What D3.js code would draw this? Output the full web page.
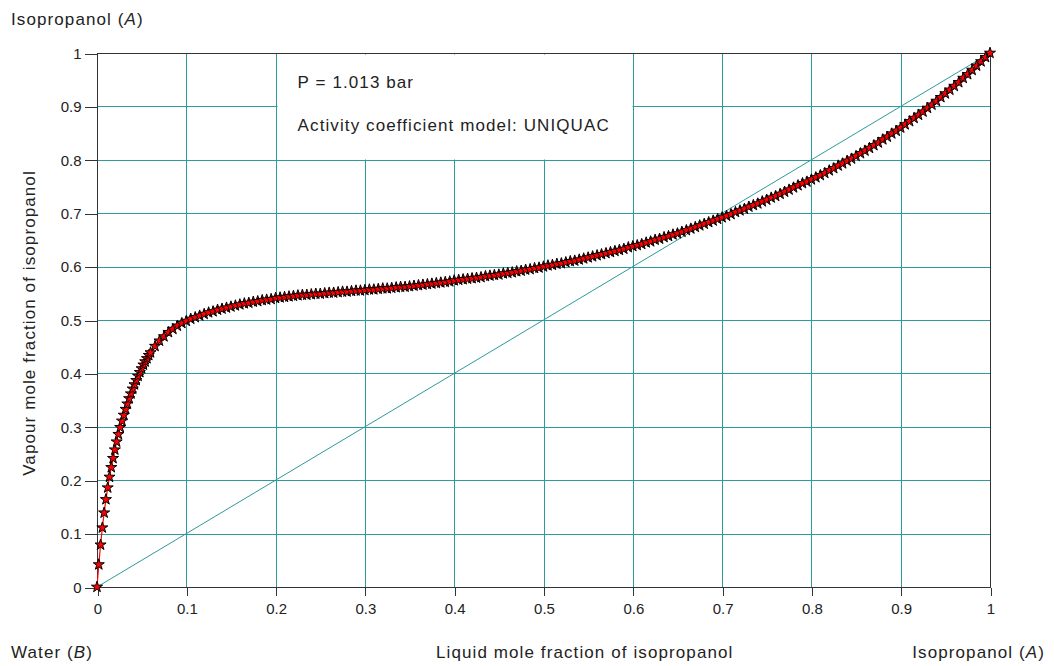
<!DOCTYPE html>
<html>
<head>
<meta charset="utf-8">
<script src="https://cdn.jsdelivr.net/npm/d3@7"></script>
<style>
body { margin: 0; background: #fff; }
text { font-family: "Liberation Sans", Arial, sans-serif; fill: #222; }
.lbl { font-size: 17px; letter-spacing: 1.1px; }
.tick text { font-size: 15px; }
</style>
</head>
<body>
<svg class="chart"></svg>
<script>
var width = 1054;
var height = 666;
var margin = {top: 53, right: 64, bottom: 79, left: 97};
var w = width - margin.left - margin.right;
var h = height - margin.top - margin.bottom;

// axis ticks and grid positions
var tickVals = [0, 0.1, 0.2, 0.3, 0.4, 0.5, 0.6, 0.7, 0.8, 0.9, 1];
var gridVals = [0.1, 0.2, 0.3, 0.4, 0.5, 0.6, 0.7, 0.8, 0.9];

// liquid mole fraction of isopropanol (x)
var liquidX = [
  0, 0.002, 0.004, 0.006, 0.008, 0.01, 0.012, 0.014, 0.016, 0.018, 0.02,
  0.022, 0.024, 0.026, 0.028, 0.03, 0.032, 0.034, 0.036, 0.038, 0.04,
  0.042, 0.044, 0.046, 0.048, 0.05, 0.052, 0.054, 0.056, 0.058, 0.06,
  0.065, 0.07, 0.075, 0.08, 0.085, 0.09, 0.095, 0.1,
  0.105, 0.11, 0.115, 0.12, 0.125, 0.13, 0.135, 0.14, 0.145, 0.15,
  0.155, 0.16, 0.165, 0.17, 0.175, 0.18, 0.185, 0.19, 0.195, 0.2,
  0.205, 0.21, 0.215, 0.22, 0.225, 0.23, 0.235, 0.24, 0.245, 0.25,
  0.255, 0.26, 0.265, 0.27, 0.275, 0.28, 0.285, 0.29, 0.295, 0.3,
  0.305, 0.31, 0.315, 0.32, 0.325, 0.33, 0.335, 0.34, 0.345, 0.35,
  0.355, 0.36, 0.365, 0.37, 0.375, 0.38, 0.385, 0.39, 0.395, 0.4,
  0.405, 0.41, 0.415, 0.42, 0.425, 0.43, 0.435, 0.44, 0.445, 0.45,
  0.455, 0.46, 0.465, 0.47, 0.475, 0.48, 0.485, 0.49, 0.495, 0.5,
  0.505, 0.51, 0.515, 0.52, 0.525, 0.53, 0.535, 0.54, 0.545, 0.55,
  0.555, 0.56, 0.565, 0.57, 0.575, 0.58, 0.585, 0.59, 0.595, 0.6,
  0.605, 0.61, 0.615, 0.62, 0.625, 0.63, 0.635, 0.64, 0.645, 0.65,
  0.655, 0.66, 0.665, 0.67, 0.675, 0.68, 0.685, 0.69, 0.695, 0.7,
  0.705, 0.71, 0.715, 0.72, 0.725, 0.73, 0.735, 0.74, 0.745, 0.75,
  0.755, 0.76, 0.765, 0.77, 0.775, 0.78, 0.785, 0.79, 0.795, 0.8,
  0.805, 0.81, 0.815, 0.82, 0.825, 0.83, 0.835, 0.84, 0.845, 0.85,
  0.855, 0.86, 0.865, 0.87, 0.875, 0.88, 0.885, 0.89, 0.895, 0.9,
  0.905, 0.91, 0.915, 0.92, 0.925, 0.93, 0.935, 0.94, 0.945, 0.95,
  0.955, 0.96, 0.965, 0.97, 0.975, 0.98, 0.985, 0.99, 0.995, 1
];

// vapour mole fraction of isopropanol (y)
var vapourY = [
  0, 0.042, 0.079, 0.111, 0.139, 0.164, 0.186, 0.206, 0.224, 0.241, 0.257,
  0.272, 0.286, 0.299, 0.311, 0.322, 0.333, 0.343, 0.353, 0.362, 0.371,
  0.379, 0.387, 0.395, 0.402, 0.409, 0.416, 0.422, 0.428, 0.434, 0.439,
  0.451, 0.461, 0.469, 0.477, 0.483, 0.489, 0.494, 0.498,
  0.502, 0.505, 0.508, 0.511, 0.514, 0.516, 0.519, 0.521, 0.523, 0.525,
  0.527, 0.529, 0.531, 0.532, 0.534, 0.535, 0.537, 0.538, 0.539, 0.541,
  0.542, 0.543, 0.544, 0.545, 0.546, 0.547, 0.547, 0.548, 0.549, 0.549,
  0.550, 0.551, 0.551, 0.552, 0.553, 0.553, 0.554, 0.555, 0.555, 0.556,
  0.557, 0.557, 0.558, 0.559, 0.559, 0.560, 0.561, 0.562, 0.562, 0.563,
  0.564, 0.565, 0.566, 0.567, 0.568, 0.569, 0.570, 0.571, 0.572, 0.574,
  0.575, 0.576, 0.577, 0.578, 0.579, 0.580, 0.582, 0.583, 0.584, 0.585,
  0.587, 0.588, 0.589, 0.591, 0.592, 0.594, 0.595, 0.597, 0.598, 0.600,
  0.602, 0.603, 0.605, 0.606, 0.608, 0.610, 0.611, 0.613, 0.615, 0.617,
  0.619, 0.621, 0.623, 0.625, 0.627, 0.629, 0.631, 0.633, 0.636, 0.638,
  0.640, 0.642, 0.645, 0.647, 0.650, 0.652, 0.655, 0.657, 0.660, 0.662,
  0.665, 0.668, 0.671, 0.674, 0.677, 0.680, 0.683, 0.686, 0.689, 0.692,
  0.695, 0.698, 0.702, 0.705, 0.708, 0.712, 0.715, 0.718, 0.722, 0.725,
  0.729, 0.732, 0.736, 0.740, 0.744, 0.748, 0.752, 0.756, 0.759, 0.763,
  0.767, 0.771, 0.775, 0.780, 0.784, 0.789, 0.793, 0.798, 0.802, 0.807,
  0.812, 0.817, 0.822, 0.827, 0.832, 0.838, 0.843, 0.849, 0.854, 0.860,
  0.866, 0.872, 0.878, 0.884, 0.890, 0.897, 0.903, 0.910, 0.917, 0.924,
  0.931, 0.938, 0.945, 0.953, 0.960, 0.968, 0.976, 0.984, 0.992, 1.000
];

var data = liquidX.map(function(d, i) { return {x: d, y: vapourY[i]}; });

var gridColor = "#2f9a9a";

var svg = d3.select(".chart")
    .attr("width", width)
    .attr("height", height);

var chart = svg.append("g")
    .attr("transform", "translate(" + margin.left + "," + margin.top + ")");

var x = d3.scaleLinear().domain([0, 1]).range([0, w]);
var y = d3.scaleLinear().domain([0, 1]).range([h, 0]);

function px(v) { return Math.round(v) + 0.5; }

// grid
chart.append("g").selectAll("line.v")
    .data(gridVals)
    .enter().append("line")
    .attr("x1", function(d) { return px(x(d)); })
    .attr("x2", function(d) { return px(x(d)); })
    .attr("y1", 0).attr("y2", h)
    .attr("stroke", gridColor)
    .attr("shape-rendering", "crispEdges");

chart.append("g").selectAll("line.h")
    .data(gridVals)
    .enter().append("line")
    .attr("y1", function(d) { return px(y(d)); })
    .attr("y2", function(d) { return px(y(d)); })
    .attr("x1", 0).attr("x2", w)
    .attr("stroke", gridColor)
    .attr("shape-rendering", "crispEdges");

// annotation box hides grid between 0.2-0.6 / 0.8-1
chart.append("rect")
    .attr("x", px(x(0.2)) + 1)
    .attr("y", px(y(1)) + 1)
    .attr("width", px(x(0.6)) - px(x(0.2)) - 2)
    .attr("height", px(y(0.8)) - px(y(1)) - 2)
    .attr("fill", "#fff");

chart.append("text")
    .attr("class", "lbl")
    .attr("x", x(0.2) + 22)
    .attr("y", 35)
    .text("P = 1.013 bar");

chart.append("text")
    .attr("class", "lbl")
    .attr("x", x(0.2) + 22)
    .attr("y", 78)
    .text("Activity coefficient model: UNIQUAC");

// x = y diagonal
chart.append("line")
    .attr("x1", x(0)).attr("y1", y(0))
    .attr("x2", x(1)).attr("y2", y(1))
    .attr("stroke", gridColor)
    .attr("stroke-width", 1);

// frame
chart.append("rect")
    .attr("x", 0.5).attr("y", 0.5)
    .attr("width", w).attr("height", h)
    .attr("fill", "none")
    .attr("stroke", "#333")
    .attr("shape-rendering", "crispEdges");

var xAxis = d3.axisBottom(x)
    .tickValues(tickVals)
    .tickSize(8)
    .tickPadding(8)
    .tickFormat(function(d) { return d; });

var yAxis = d3.axisLeft(y)
    .tickValues(tickVals)
    .tickSize(13)
    .tickPadding(3)
    .tickFormat(function(d) { return d; });

chart.append("g")
    .attr("class", "axis")
    .attr("transform", "translate(0.5," + (h + 0.5) + ")")
    .call(xAxis)
    .call(function(g) { g.select(".domain").remove(); });

chart.append("g")
    .attr("class", "axis")
    .attr("transform", "translate(0.5,0.5)")
    .call(yAxis)
    .call(function(g) { g.select(".domain").remove(); });

chart.selectAll(".axis line").attr("stroke", "#333").attr("shape-rendering", "crispEdges");
chart.selectAll(".axis text").attr("fill", "#222").style("font-family", '"Liberation Sans", Arial, sans-serif');

// equilibrium curve
var line = d3.line()
    .x(function(d) { return x(d.x); })
    .y(function(d) { return y(d.y); });

chart.append("path")
    .datum(data)
    .attr("fill", "none")
    .attr("stroke", "red")
    .attr("stroke-width", 1.2)
    .attr("d", line);

var star = d3.symbol().type(d3.symbolStar).size(38);

chart.append("g").selectAll("path")
    .data(data)
    .enter().append("path")
    .attr("d", star)
    .attr("transform", function(d) { return "translate(" + x(d.x) + "," + y(d.y) + ")"; })
    .attr("fill", "red")
    .attr("stroke", "#000")
    .attr("stroke-width", 1);

// corner and axis labels
svg.append("text")
    .attr("class", "lbl")
    .attr("x", 11).attr("y", 25)
    .html("Isopropanol (<tspan font-style='italic'>A</tspan>)");

svg.append("text")
    .attr("class", "lbl")
    .attr("x", 11).attr("y", 658)
    .html("Water (<tspan font-style='italic'>B</tspan>)");

svg.append("text")
    .attr("class", "lbl")
    .attr("x", 1045).attr("y", 658)
    .attr("text-anchor", "end")
    .html("Isopropanol (<tspan font-style='italic'>A</tspan>)");

svg.append("text")
    .attr("class", "lbl")
    .attr("x", 436).attr("y", 658)
    .text("Liquid mole fraction of isopropanol");

svg.append("text")
    .attr("class", "lbl")
    .attr("transform", "translate(35," + 323 + ") rotate(-90)")
    .attr("text-anchor", "middle")
    .text("Vapour mole fraction of isopropanol");
</script>
</body>
</html>
